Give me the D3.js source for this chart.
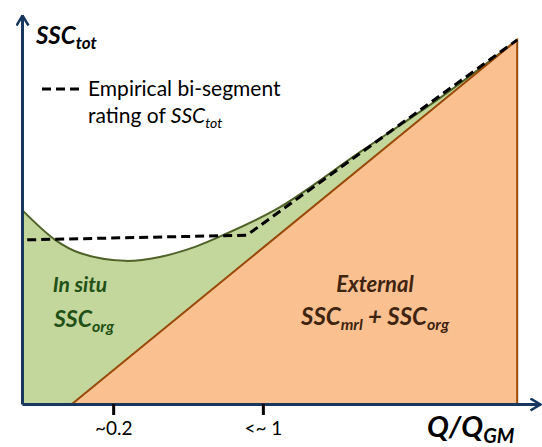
<!DOCTYPE html>
<html>
<head>
<meta charset="utf-8">
<script src="https://cdn.jsdelivr.net/npm/d3@7"></script>
<style>
  body { margin: 0; background: #fff; }
  svg { display: block; font-family: Lato, "Open Sans", sans-serif; }
</style>
</head>
<body>
<svg id="chart"></svg>
<script>
// values in relative units (0-100) along Q/QGM and SSCtot
const curveX = [0, 6.4, 11.2, 19.9, 26.6, 33.4, 38.8, 49.8, 65.3, 80.7, 95.6];
const curveY = [49.9, 42.2, 38.8, 36.8, 37.8, 40.4, 43.4, 50.6, 64.8, 78.7, 93.6];
const externalX = [9.65, 95.6, 95.6];
const externalY = [0, 93.6, 0];
const ratingX = [1, 43.4, 95.6];
const ratingY = [42.2, 43.4, 93.6];
const tickValues = [17.6, 46.5];
const tickLabels = ["~0.2", "<~ 1"];

const width = 542, height = 447;
const svg = d3.select("#chart").attr("width", width).attr("height", height);

const x = d3.scaleLinear().domain([0, 100]).range([22, 540]);
const y = d3.scaleLinear().domain([0, 100]).range([404, 15]);

const axisColor = "#17375e";

// arrow head
svg.append("defs").append("marker")
    .attr("id", "arrow")
    .attr("viewBox", "0 0 12 14")
    .attr("refX", 11)
    .attr("refY", 7)
    .attr("markerWidth", 12)
    .attr("markerHeight", 14)
    .attr("markerUnits", "userSpaceOnUse")
    .attr("orient", "auto")
  .append("path")
    .attr("d", "M1,1 L11,7 L1,13")
    .attr("fill", "none")
    .attr("stroke", axisColor)
    .attr("stroke-width", 2.5);

const curve = curveX.map((d, i) => [d, curveY[i]]);

// green area (in situ)
const area = d3.area()
    .x(d => x(d[0]))
    .y0(y(0))
    .y1(d => y(d[1]))
    .curve(d3.curveCatmullRom);
svg.append("path")
    .datum(curve)
    .attr("fill", "#c3d69b")
    .attr("d", area);

svg.append("path")
    .datum(curve)
    .attr("fill", "none")
    .attr("stroke", "#4f6228")
    .attr("stroke-width", 2)
    .attr("d", d3.line().x(d => x(d[0])).y(d => y(d[1])).curve(d3.curveCatmullRom));

// orange triangle (external)
const ext = externalX.map((d, i) => [d, externalY[i]]);
svg.append("path")
    .datum(ext)
    .attr("fill", "#fac090")
    .attr("stroke", "#984807")
    .attr("stroke-width", 2)
    .attr("d", d3.line().x(d => x(d[0])).y(d => y(d[1])));

// empirical rating (dashed)
const rating = ratingX.map((d, i) => [d, ratingY[i]]);
svg.append("path")
    .datum(rating)
    .attr("fill", "none")
    .attr("stroke", "#000")
    .attr("stroke-width", 3)
    .attr("stroke-dasharray", "9,5")
    .attr("d", d3.line().x(d => x(d[0])).y(d => y(d[1])));

// axes
const xAxis = svg.append("g")
    .attr("transform", "translate(0," + y(0) + ")")
    .call(d3.axisBottom(x)
        .tickValues(tickValues)
        .tickFormat((d, i) => tickLabels[i])
        .tickSize(11)
        .tickSizeOuter(0)
        .tickPadding(7));
xAxis.attr("font-size", 19).attr("font-family", "Lato, sans-serif");
xAxis.select(".domain")
    .attr("stroke", axisColor)
    .attr("stroke-width", 3)
    .attr("marker-end", "url(#arrow)");
xAxis.selectAll(".tick line").attr("stroke", "#000").attr("stroke-width", 3);
xAxis.selectAll(".tick text").attr("fill", "#000");

const yAxis = svg.append("g")
    .attr("transform", "translate(" + x(0) + ",0)")
    .call(d3.axisLeft(y).tickValues([]).tickSizeOuter(0));
yAxis.select(".domain")
    .attr("stroke", axisColor)
    .attr("stroke-width", 3)
    .attr("marker-end", "url(#arrow)");

// text with subscripts
function label(xp, yp, parts, opts) {
    const t = svg.append("text")
        .attr("x", xp).attr("y", yp)
        .attr("text-anchor", opts.anchor || "start")
        .attr("fill", opts.color || "#000")
        .style("font-size", opts.size + "px")
        .style("font-weight", opts.weight || "normal")
        .style("font-style", opts.style || "normal");
    const shift = Math.round(opts.size * 0.22);
    let low = false;
    parts.forEach(p => {
        const s = t.append("tspan").text(p.text);
        if (p.sub) {
            s.attr("dy", low ? 0 : shift)
                .style("font-size", (opts.subSize || opts.size * 0.65) + "px");
            low = true;
        } else {
            if (low) s.attr("dy", -shift);
            low = false;
        }
        if (p.italic) s.style("font-style", "italic");
    });
    return t;
}

label(36, 44, [{text: "SSC"}, {text: "tot", sub: true}],
    {size: 24, weight: "bold", style: "italic", subSize: 17});

// legend
svg.append("line")
    .attr("x1", 42).attr("x2", 82).attr("y1", 89).attr("y2", 89)
    .attr("stroke", "#000").attr("stroke-width", 3).attr("stroke-dasharray", "9,5");
label(88, 96, [{text: "Empirical bi-segment"}], {size: 21});
label(88, 123, [{text: "rating of "}, {text: "SSC", italic: true}, {text: "tot", sub: true, italic: true}],
    {size: 21, subSize: 14});

label(80, 292, [{text: "In situ"}], {size: 21, weight: "bold", style: "italic", anchor: "middle", color: "#215016"});
label(84, 327, [{text: "SSC"}, {text: "org", sub: true}], {size: 23, weight: "bold", style: "italic", anchor: "middle", color: "#215016", subSize: 16});

label(375, 292, [{text: "External"}], {size: 22, weight: "bold", style: "italic", anchor: "middle", color: "#3f2410"});
label(375, 325, [{text: "SSC"}, {text: "mrl", sub: true}, {text: " + SSC"}, {text: "org", sub: true}],
    {size: 24, weight: "bold", style: "italic", anchor: "middle", color: "#3f2410", subSize: 16});

label(427, 437, [{text: "Q/Q"}, {text: "GM", sub: true}], {size: 29, weight: "bold", style: "italic", subSize: 20});
</script>
</body>
</html>
